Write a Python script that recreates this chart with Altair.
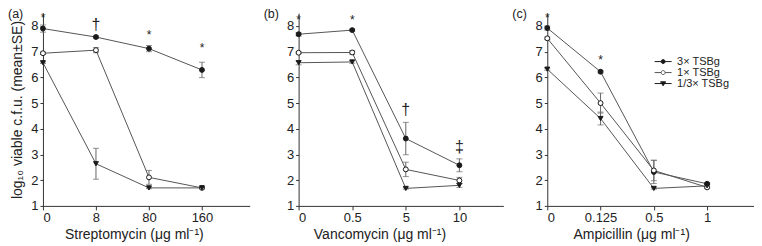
import json
import altair as alt
import pandas as pd

FONT = "Liberation Sans"

series = ["3× TSBg", "1× TSBg", "1/3× TSBg"]
panel_letters = ["(a)", "(b)", "(c)"]
drug_titles = ["Streptomycin (μg ml⁻¹)", "Vancomycin (μg ml⁻¹)", "Ampicillin (μg ml⁻¹)"]
tick_labels = [["0", "8", "80", "160"], ["0", "0.5", "5", "10"], ["0", "0.125", "0.5", "1"]]
y_title = "log₁₀ viable c.f.u. (mean±SE)"

# Streptomycin (a)
strep_mean = {"3× TSBg": [7.90, 7.57, 7.12, 6.29],
              "1× TSBg": [6.94, 7.06, 2.11, 1.70],
              "1/3× TSBg": [6.57, 2.64, 1.70, 1.70]}
strep_se = {"3× TSBg": [0.14, 0.05, 0.12, 0.30],
            "1× TSBg": [0.05, 0.10, 0.27, 0.03],
            "1/3× TSBg": [0.03, 0.60, 0.03, 0.03]}
# Vancomycin (b)
vanc_mean = {"3× TSBg": [7.68, 7.84, 3.62, 2.58],
             "1× TSBg": [6.96, 6.97, 2.42, 1.99],
             "1/3× TSBg": [6.57, 6.60, 1.68, 1.80]}
vanc_se = {"3× TSBg": [0.07, 0.04, 0.63, 0.25],
           "1× TSBg": [0.04, 0.07, 0.28, 0.12],
           "1/3× TSBg": [0.08, 0.05, 0.03, 0.08]}
# Ampicillin (c)
amp_mean = {"3× TSBg": [7.92, 6.22, 2.32, 1.86],
            "1× TSBg": [7.52, 5.00, 2.38, 1.72],
            "1/3× TSBg": [6.32, 4.40, 1.68, 1.78]}
amp_se = {"3× TSBg": [0.08, 0.05, 0.45, 0.05],
          "1× TSBg": [0.05, 0.39, 0.40, 0.04],
          "1/3× TSBg": [0.04, 0.25, 0.03, 0.05]}

# significance marks: (position index, y value, symbol)
strep_marks = [(0, 8.43, "*"), (1, 8.02, "†"), (2, 7.77, "*"), (3, 7.26, "*")]
vanc_marks = [(0, 8.36, "*"), (1, 8.36, "*"), (2, 4.73, "†"), (3, 3.30, "‡")]
amp_marks = [(0, 8.43, "*"), (1, 6.81, "*")]

point_shapes = ["circle", "circle", "triangle-down"]
point_fills = ["#1a1a1a", "white", "#1a1a1a"]
legend_strokes = ["#1a1a1a", "#555555", "#1a1a1a"]
legend_paths = [
    "M-1.7,0L-0.4,0M0.4,0L1.7,0M-0.4,0A0.4,0.4,0,1,1,0.4,0A0.4,0.4,0,1,1,-0.4,0Z",
    "M-1.7,0L-0.4,0M0.4,0L1.7,0M-0.4,0A0.4,0.4,0,1,1,0.4,0A0.4,0.4,0,1,1,-0.4,0Z",
    "M-1.7,0L1.7,0M-0.5,-0.35L0.5,-0.35L0,0.45Z",
]


def panel(i, mean, se, marks, width, xmax, title_x, ytitle=None, legend=False):
    rows = []
    for s in series:
        for k in range(4):
            m = mean[s][k]
            e = se[s][k]
            rows.append({"pos": k, "series": s, "mean": m, "lo": m - e, "hi": m + e})
    df = pd.DataFrame(rows)
    ann = pd.DataFrame(marks, columns=["pos", "val", "sym"])

    xscale = alt.Scale(domain=[0, xmax], nice=False, zero=False)
    yscale = alt.Scale(domain=[1, 8.5], nice=False, zero=False)
    xaxis = alt.Axis(values=[0, 1, 2, 3],
                     labelExpr=json.dumps(tick_labels[i]).replace('"', "'") + "[datum.value]",
                     title=drug_titles[i], titleX=title_x, titlePadding=3,
                     labelPadding=2, tickSize=4)
    yaxis = alt.Axis(values=list(range(1, 9)), title=ytitle, titlePadding=6,
                     labelPadding=2, tickSize=3)

    def X(f):
        return alt.X(f, type="quantitative", scale=xscale, axis=xaxis)

    def Y(f):
        return alt.Y(f, type="quantitative", scale=yscale, axis=yaxis)

    base = alt.Chart(df)
    lines = base.mark_line(color="#555", strokeWidth=1).encode(
        x=X("pos"), y=Y("mean"), detail="series:N", order="pos:Q")
    bars = base.mark_rule(color="#666", strokeWidth=1).encode(
        x=X("pos"), y=Y("lo"), y2="hi:Q")
    cap_lo = base.mark_tick(orient="horizontal", size=6, thickness=1, color="#666").encode(
        x=X("pos"), y=Y("lo"))
    cap_hi = base.mark_tick(orient="horizontal", size=6, thickness=1, color="#666").encode(
        x=X("pos"), y=Y("hi"))
    points = base.mark_point(opacity=1, fillOpacity=1, stroke="#1a1a1a", strokeWidth=1, size=24).encode(
        x=X("pos"), y=Y("mean"),
        shape=alt.Shape("series:N", scale=alt.Scale(domain=series, range=point_shapes), legend=None),
        fill=alt.Fill("series:N", scale=alt.Scale(domain=series, range=point_fills), legend=None))

    stars = alt.Chart(ann).transform_filter("datum.sym == '*'").mark_text(
        font=FONT, fontSize=12, color="#222", baseline="alphabetic", dy=7).encode(
        x=X("pos"), y=Y("val"), text="sym:N")
    daggers = alt.Chart(ann).transform_filter("datum.sym != '*'").mark_text(
        font=FONT, fontSize=16, color="#222", baseline="alphabetic", dy=5).encode(
        x=X("pos"), y=Y("val"), text="sym:N")
    letter = alt.Chart(pd.DataFrame({"t": [panel_letters[i]]})).mark_text(
        font=FONT, fontSize=12.5, color="#222", align="left", baseline="top").encode(
        x=alt.value(-35), y=alt.value(-5), text="t:N")

    layers = [lines, bars, cap_lo, cap_hi, points, stars, daggers, letter]
    if legend:
        leg = alt.Legend(title=None, orient="none", legendX=110.5, legendY=43,
                         symbolSize=100, symbolStrokeWidth=1,
                         labelFont=FONT, labelFontSize=11, labelColor="#222",
                         labelOffset=8.5, rowPadding=-1.5, padding=0)
        lg = alt.Chart(df).transform_filter("false").mark_point(
            opacity=1, fillOpacity=1, strokeWidth=1).encode(
            x=X("pos"), y=Y("mean"),
            shape=alt.Shape("series:N", scale=alt.Scale(domain=series, range=legend_paths), legend=leg),
            fill=alt.Fill("series:N", scale=alt.Scale(domain=series, range=point_fills), legend=leg),
            stroke=alt.Stroke("series:N", scale=alt.Scale(domain=series, range=legend_strokes), legend=leg))
        layers.append(lg)
    ch = alt.layer(*layers).properties(width=width, height=193)
    if legend:
        ch = ch.resolve_scale(shape="independent", fill="independent", stroke="independent")
    return ch


pa = panel(0, strep_mean, strep_se, strep_marks, 207, 3.9, 91, ytitle=y_title)
pb = panel(1, vanc_mean, vanc_se, vanc_marks, 205, 3.82, 81)
pc = panel(2, amp_mean, amp_se, amp_marks, 207, 3.88, 84, legend=True)

chart = alt.hconcat(alt.hconcat(pa, pb, spacing=14), pc, spacing=9).properties(
    padding=0
).configure_view(stroke=None).configure_axis(
    grid=False, domainColor="#333", tickColor="#333", labelColor="#222", titleColor="#222",
    labelFont=FONT, titleFont=FONT, labelFontSize=13, titleFontSize=14,
    titleFontWeight="normal", domainWidth=1, tickWidth=1
)

chart.save("out.html", embed_options={"renderer": "svg", "actions": False})
